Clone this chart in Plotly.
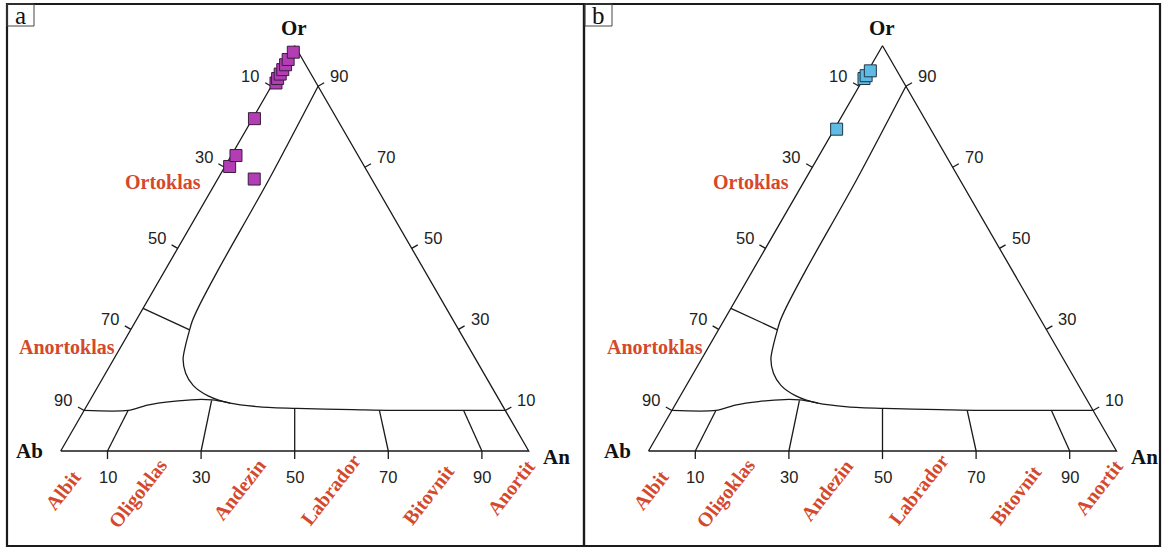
import math
import plotly.graph_objects as go

# ---- Feldspar classification diagram (Or - Ab - An), compositions in mol % ----
# Field boundaries, given as Or and An (Ab = 100 - Or - An)
alkali_boundary_or = [90, 67, 45, 35.5, 32.0, 29.9, 26.2, 22.7, 19.2, 16.2, 13.6, 11.8, 10.9, 10.5, 10.2, 10.0, 10.0]
alkali_boundary_an = [10, 11, 11.3, 11.7, 12.1, 12.6, 13.6, 14.8, 17.1, 20.2, 24.7, 30.3, 37.1, 45.2, 57.3, 66.0, 90.0]

plag_boundary_or = [10.0, 10.0, 11.4, 12.2, 12.7, 12.6, 12.0, 11.8]
plag_boundary_an = [0.0, 9.4, 13.1, 17.4, 22.7, 26.0, 29.5, 30.3]

anorthoclase_div_or = [35.2, 29.9]
anorthoclase_div_an = [0.0, 12.6]

# Plagioclase divisions: An at the Ab-An join and where they meet the boundary
plag_div_base_an = [10, 30, 50, 70, 90]
plag_div_top_or = [10.0, 12.5, 10.5, 10.0, 10.0]
plag_div_top_an = [9.4, 26.0, 44.75, 63.1, 81.1]

tick_values = [10, 30, 50, 70, 90]
tick_labels = ["10", "30", "50", "70", "90"]

plag_names = ["Albit", "Oligoklas", "Andezin", "Labrador", "Bitovnit", "Anortit"]
alkali_names = ["Ortoklas", "Anortoklas"]

# Analysed feldspars, sample group a
a_or = [67.1, 70.2, 72.9, 82.0, 90.8, 91.9, 93.0, 94.1, 95.3, 96.6, 98.4]
a_an = [7.8, 1.0, 1.0, 0.4, 0.6, 0.4, 0.4, 0.4, 0.4, 0.3, 0.5]

# Analysed feldspars, sample group b
b_or = [79.4, 91.9, 92.6, 93.8]
b_an = [0.5, 0.1, 0.2, 0.5]

SQ3 = math.sqrt(3) / 2


def to_xy(or_vals, an_vals):
    """Project Or/An percentages onto a triangle with Ab at (0,0), An at (100,0)."""
    xs = [an + o / 2 for o, an in zip(or_vals, an_vals)]
    ys = [o * SQ3 for o in or_vals]
    return xs, ys


W, H = 1163, 549
K = 4.68  # pixels per composition unit
frames = [(7, 584), (584, 1160)]
ab_px = [60.7, 648.5]
base_py = 451
top_py, bot_py = 4, 546

LINE = dict(color="#1a1a1a", width=1.3)
RED = "#d5482b"
SERIF = "Liberation Serif, Times New Roman, serif"
SANS = "Liberation Sans, Arial, sans-serif"

fig = go.Figure()
annotations = []
shapes = []

panels = [
    ("a", a_or, a_an, "#b23db5", "#3a1c3e"),
    ("b", b_or, b_an, "#5fbbe3", "#1d3646"),
]

for i, (tag, p_or, p_an, fill, edge) in enumerate(panels):
    xa = "x" if i == 0 else "x2"
    ya = "y" if i == 0 else "y2"
    kx = "xaxis" if i == 0 else "xaxis2"
    ky = "yaxis" if i == 0 else "yaxis2"
    fx0, fx1 = frames[i]

    fig.update_layout(**{
        kx: dict(domain=[fx0 / W, fx1 / W],
                 range=[(fx0 - ab_px[i]) / K, (fx1 - ab_px[i]) / K],
                 visible=False, fixedrange=True),
        ky: dict(domain=[1 - bot_py / H, 1 - top_py / H],
                 range=[-(bot_py - base_py) / K, (base_py - top_py) / K],
                 visible=False, fixedrange=True),
    })

    def add_line(xs, ys, shape="linear"):
        fig.add_trace(go.Scatter(x=xs, y=ys, xaxis=xa, yaxis=ya, mode="lines",
                                 line=dict(LINE, shape=shape, smoothing=0.8),
                                 hoverinfo="skip", showlegend=False))

    # triangle outline
    tx, ty = to_xy([0, 0, 100, 0], [0, 100, 0, 0])
    add_line(tx, ty)

    # field boundaries
    add_line(*to_xy(alkali_boundary_or, alkali_boundary_an), shape="spline")
    add_line(*to_xy(plag_boundary_or, plag_boundary_an), shape="spline")
    add_line(*to_xy(anorthoclase_div_or, anorthoclase_div_an))
    for b_an_, t_or, t_an in zip(plag_div_base_an, plag_div_top_or, plag_div_top_an):
        add_line(*to_xy([0, t_or], [b_an_, t_an]))

    # ticks: left edge (Ab), bottom (An), right edge (Or)
    tl = 1.5
    txs, tys = [], []
    for v in tick_values:
        x0, y0 = to_xy([100 - v], [0])
        txs += [x0[0], x0[0] - tl * SQ3, None]
        tys += [y0[0], y0[0] + tl * 0.5, None]
        x0, y0 = to_xy([0], [v])
        txs += [x0[0], x0[0], None]
        tys += [y0[0], y0[0] - tl * 1.15, None]
        x0, y0 = to_xy([v], [100 - v])
        txs += [x0[0], x0[0] + tl * SQ3, None]
        tys += [y0[0], y0[0] + tl * 0.5, None]
    add_line(txs, tys)

    # tick labels
    num_font = dict(family=SANS, size=16.5, color="#222")
    for v, lab in zip(tick_values, tick_labels):
        for (lo, la), dx, dy in [((100 - v, 0), -21, 10), ((0, v), 0, -26), ((v, 100 - v), 21, 10)]:
            lx, ly = to_xy([lo], [la])
            annotations.append(dict(x=lx[0], y=ly[0], xref=xa, yref=ya, text=lab, showarrow=False,
                                    xanchor="center", yanchor="middle",
                                    xshift=dx, yshift=dy, font=num_font))

    # apex labels
    corner = dict(family=SERIF, size=21, color="#111")
    for text, (c_or, c_an), dx, dy in [("<b>Or</b>", (100, 0), -1, 18),
                                       ("<b>Ab</b>", (0, 0), -31, 0),
                                       ("<b>An</b>", (0, 100), 28, -6)]:
        cx, cy = to_xy([c_or], [c_an])
        annotations.append(dict(x=cx[0], y=cy[0], xref=xa, yref=ya, text=text, showarrow=False,
                                xanchor="center", yanchor="middle",
                                xshift=dx, yshift=dy, font=corner))

    # field names
    red_font = dict(family=SERIF, size=20, color=RED)
    plag_pos = [(0.5, -8.3), (16.5, -9.0), (38.1, -8.3), (57.6, -8.3), (78.5, -9.4), (96.3, -7.7)]
    for name, (px_, py_) in zip(plag_names, plag_pos):
        annotations.append(dict(x=px_, y=py_, xref=xa, yref=ya, text=f"<b>{name}</b>",
                                xanchor="center", yanchor="middle",
                                showarrow=False, textangle=-52, font=red_font))
    for name, (px_, py_) in zip(alkali_names, [(21.8, 57.5), (1.35, 22.2)]):
        annotations.append(dict(x=px_, y=py_, xref=xa, yref=ya, text=f"<b>{name}</b>",
                                xanchor="center", yanchor="middle",
                                showarrow=False, font=red_font))

    # analysed samples
    mx, my = to_xy(p_or, p_an)
    fig.add_trace(go.Scatter(x=mx, y=my, xaxis=xa, yaxis=ya, mode="markers",
                             marker=dict(symbol="square", size=12, color=fill,
                                         line=dict(color=edge, width=1)),
                             showlegend=False))

    # panel frame and tag box
    shapes.append(dict(type="rect", xref="paper", yref="paper",
                       x0=fx0 / W, x1=fx1 / W, y0=1 - bot_py / H, y1=1 - top_py / H,
                       line=dict(color="#1a1a1a", width=2.2), layer="above"))
    bx0 = fx0 + (0 if i == 0 else 1)
    shapes.append(dict(type="rect", xref="paper", yref="paper",
                       x0=bx0 / W, x1=(bx0 + 27) / W, y0=1 - 26 / H, y1=1 - top_py / H,
                       line=dict(color="#444", width=1), layer="above"))
    annotations.append(dict(x=(bx0 + 13.5) / W, y=1 - 15 / H, xref="paper", yref="paper",
                            text=tag, showarrow=False, xanchor="center", yanchor="middle",
                            font=dict(family=SERIF, size=25, color="#111")))

fig.update_layout(width=W, height=H, margin=dict(l=0, r=0, t=0, b=0),
                  paper_bgcolor="white", plot_bgcolor="white",
                  annotations=annotations, shapes=shapes, showlegend=False)

fig.write_html("out.html")
